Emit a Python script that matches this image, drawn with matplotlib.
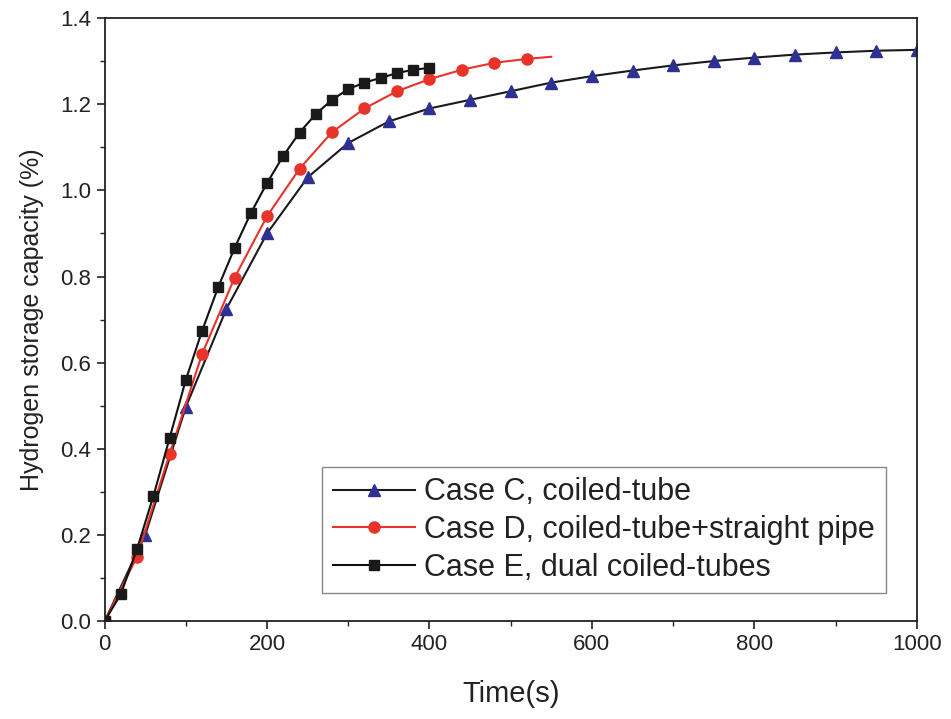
import matplotlib.pyplot as plt
from matplotlib.ticker import MultipleLocator

# Case C, coiled-tube (every 50 s)
t_c = [0, 50, 100, 150, 200, 250, 300, 350, 400, 450, 500, 550, 600, 650, 700, 750, 800, 850, 900, 950, 1000]
h_c = [0.0, 0.20, 0.497, 0.725, 0.90, 1.03, 1.11, 1.16, 1.19, 1.21, 1.23, 1.25, 1.265, 1.278, 1.29, 1.30, 1.308, 1.315, 1.32, 1.324, 1.326]

# Case D, coiled-tube+straight pipe (every 40 s)
t_d = [0, 40, 80, 120, 160, 200, 240, 280, 320, 360, 400, 440, 480, 520]
h_d = [0.0, 0.15, 0.388, 0.62, 0.797, 0.94, 1.05, 1.135, 1.19, 1.23, 1.258, 1.28, 1.296, 1.305]
t_d_end = 550
h_d_end = 1.31

# Case E, dual coiled-tubes (every 20 s)
t_e = [0, 20, 40, 60, 80, 100, 120, 140, 160, 180, 200, 220, 240, 260, 280, 300, 320, 340, 360, 380, 400]
h_e = [0.0, 0.063, 0.168, 0.29, 0.425, 0.56, 0.674, 0.776, 0.866, 0.947, 1.017, 1.08, 1.134, 1.177, 1.21, 1.235, 1.25, 1.261, 1.272, 1.28, 1.284]

plt.rcParams['font.family'] = ['Liberation Sans', 'DejaVu Sans']

fig = plt.figure(figsize=(9.51, 7.19), dpi=100)
ax = fig.add_axes([0.110, 0.136, 0.854, 0.839])

navy = '#2E3192'
red = '#E8332A'

ax.plot(t_c, h_c, color='#1a1a1a', lw=1.5, marker='^', ms=8,
        mfc=navy, mec=navy, label='Case C, coiled-tube')
ax.plot(t_d + [t_d_end], h_d + [h_d_end], color=red, lw=1.5, marker='o', ms=8,
        mfc=red, mec=red, markevery=list(range(len(t_d))),
        label='Case D, coiled-tube+straight pipe')
ax.plot(t_e, h_e, color='#111111', lw=1.5, marker='s', ms=7,
        mfc='#1a1a1a', mec='#1a1a1a', label='Case E, dual coiled-tubes')

ax.set_xlim(0, 1000)
ax.set_ylim(0, 1.4)
ax.xaxis.set_major_locator(MultipleLocator(200))
ax.xaxis.set_minor_locator(MultipleLocator(100))
ax.yaxis.set_major_locator(MultipleLocator(0.2))
ax.yaxis.set_minor_locator(MultipleLocator(0.1))
ax.yaxis.set_major_formatter(plt.FuncFormatter(lambda v, p: f'{v:.1f}'))
ax.tick_params(which='major', direction='out', length=6, width=1.2, labelsize=16, colors='#222222')
ax.tick_params(which='minor', direction='out', length=3.5, width=1.0, colors='#222222')
for s in ax.spines.values():
    s.set_linewidth(1.3)
    s.set_color('#222222')

ax.set_xlabel('Time(s)', fontsize=21, labelpad=18, color='#222222')
ax.set_ylabel('Hydrogen storage capacity (%)', fontsize=18, labelpad=12, color='#222222')

leg = ax.legend(loc='lower right', bbox_to_anchor=(0.962, 0.046), fontsize=22,
                fancybox=False, edgecolor='#888888', framealpha=1, markerscale=1.0,
                handlelength=2.7, borderpad=0.35, labelspacing=0.25, handletextpad=0.3,
                borderaxespad=0)
leg.get_frame().set_linewidth(1.0)
for txt in leg.get_texts():
    txt.set_color('#222222')

fig.savefig('out.png', dpi=100)
